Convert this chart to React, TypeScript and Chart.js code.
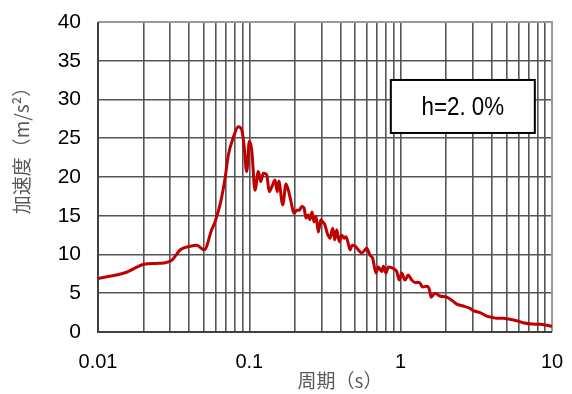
import React, { useEffect, useRef } from "react";
import { Chart, registerables } from "chart.js";

Chart.register(...registerables);

const periods: number[] = [
  0.01, 0.01508, 0.02023, 0.02503, 0.03037, 0.03536, 0.04055, 0.04489, 0.05039, 0.05639,
  0.05932, 0.06469, 0.06908, 0.07261, 0.07838, 0.08455, 0.08906, 0.09223, 0.09607, 0.09995,
  0.1037, 0.109, 0.1147, 0.1189, 0.1237, 0.1302, 0.1355, 0.1427, 0.1478, 0.153,
  0.1564, 0.1662, 0.1747, 0.1809, 0.1877, 0.1974, 0.2056, 0.2139, 0.2219, 0.2298,
  0.2369, 0.2453, 0.2517, 0.2595, 0.2675, 0.2758, 0.2857, 0.2963, 0.3054, 0.3162,
  0.3275, 0.3413, 0.3556, 0.3666, 0.378, 0.3932, 0.4077, 0.4222, 0.4353, 0.4508,
  0.4627, 0.4792, 0.4993, 0.5249, 0.5528, 0.5812, 0.5964, 0.6271, 0.6535, 0.6871,
  0.7116, 0.7495, 0.768, 0.8002, 0.8287, 0.8941, 0.9415, 0.9795, 1.016, 1.068,
  1.123, 1.183, 1.244, 1.328, 1.398, 1.486, 1.547, 1.587, 1.686, 1.82,
  2.015, 2.175, 2.346, 2.594, 2.872, 3.02, 3.344, 3.703, 3.996, 4.312,
  4.767, 5.278, 5.846, 6.462, 7.342, 8.334, 9.227, 10.0,
];

const accel: number[] = [
  6.9, 7.65, 8.74, 8.86, 9.2, 10.67, 11.05, 11.2, 10.6, 13.2,
  14.2, 16.8, 19.8, 22.8, 25.1, 26.5, 26.1, 24.1, 20.7, 24.6,
  23.5, 18.3, 20.7, 19.4, 20.5, 20.3, 18.1, 19.0, 19.6, 18.1,
  19.5, 16.4, 19.1, 18.3, 17.0, 15.3, 15.7, 15.7, 16.2, 16.0,
  14.7, 15.1, 14.5, 15.5, 14.2, 14.9, 12.9, 14.5, 14.2, 13.8,
  12.7, 12.1, 13.4, 11.9, 13.2, 11.65, 12.5, 12.1, 12.3, 11.4,
  10.6, 11.2, 11.1, 10.6, 10.2, 10.6, 10.8, 9.9, 9.5, 7.6,
  8.4, 7.8, 8.5, 7.6, 8.4, 8.2, 7.8, 6.7, 7.6, 6.7,
  7.35, 6.7, 6.4, 6.4, 5.8, 5.9, 5.5, 4.5, 5.0, 4.65,
  4.5, 4.1, 3.6, 3.35, 3.05, 2.75, 2.5, 2.06, 1.9, 1.77,
  1.77, 1.65, 1.46, 1.2, 1.03, 1.0, 0.86, 0.72,
];

const xTickValues: number[] = [
  0.01, 0.02, 0.03, 0.04, 0.05, 0.06, 0.07, 0.08, 0.09,
  0.1, 0.2, 0.3, 0.4, 0.5, 0.6, 0.7, 0.8, 0.9,
  1, 2, 3, 4, 5, 6, 7, 8, 9, 10,
];
const xTickLabels: Record<string, string> = { "0.01": "0.01", "0.1": "0.1", "1": "1", "10": "10" };

const yTitle = "加速度（m/s²）";
const xTitle = "周期（s）";
const boxLabel = "h=2. 0%";

const zeroPadding = (scale: any) => {
  scale.paddingTop = 0;
  scale.paddingBottom = 0;
  scale.paddingLeft = 0;
  scale.paddingRight = 0;
};

const overlayPlugin = {
  id: "overlay",
  beforeDatasetsDraw(chart: any) {
    const { ctx, chartArea: a } = chart;
    ctx.save();
    ctx.lineWidth = 2;
    ctx.strokeStyle = "#9a9a9a";
    ctx.beginPath();
    ctx.moveTo(a.left, a.top);
    ctx.lineTo(a.right, a.top);
    ctx.lineTo(a.right, a.bottom);
    ctx.stroke();
    ctx.strokeStyle = "#404040";
    ctx.beginPath();
    ctx.moveTo(a.left, a.top);
    ctx.lineTo(a.left, a.bottom);
    ctx.lineTo(a.right, a.bottom);
    ctx.stroke();
    ctx.restore();
  },
  afterDraw(chart: any) {
    const { ctx, chartArea: a } = chart;
    ctx.save();
    ctx.fillStyle = "#595959";
    ctx.font = '19px "Noto Sans CJK JP"';
    ctx.textAlign = "center";
    ctx.textBaseline = "middle";
    ctx.save();
    ctx.translate(22, 146);
    ctx.rotate(-Math.PI / 2);
    ctx.fillText(yTitle, 0, 0);
    ctx.restore();
    ctx.fillText(xTitle, 340, 381);
    const bx = a.left + (a.right - a.left) * 0.645;
    const by = a.top + (a.bottom - a.top) * 0.187;
    const bw = 144;
    const bh = 53;
    ctx.fillStyle = "#ffffff";
    ctx.fillRect(bx, by, bw, bh);
    ctx.lineWidth = 2;
    ctx.strokeStyle = "#000000";
    ctx.strokeRect(bx, by, bw, bh);
    ctx.fillStyle = "#000000";
    ctx.font = '26px "Liberation Sans"';
    ctx.save();
    ctx.translate(bx + bw / 2, by + bh / 2 + 1);
    ctx.scale(0.86, 1);
    ctx.fillText(boxLabel, 0, 0);
    ctx.restore();
    ctx.restore();
  },
};

export default function App() {
  const canvasRef = useRef<HTMLCanvasElement | null>(null);

  useEffect(() => {
    const canvas = canvasRef.current;
    if (!canvas) return;
    const chart = new Chart(canvas, {
      type: "line",
      data: {
        datasets: [
          {
            data: periods.map((t, i) => ({ x: t, y: accel[i] })),
            borderColor: "#C00000",
            borderWidth: 3,
            pointRadius: 0,
            cubicInterpolationMode: "monotone",
            fill: false,
          },
        ],
      },
      options: {
        responsive: false,
        animation: false,
        devicePixelRatio: 1,
        layout: { padding: { top: 22, right: 20, left: 0, bottom: 0 } },
        plugins: { legend: { display: false }, tooltip: { enabled: false }, title: { display: false } },
        scales: {
          x: {
            type: "logarithmic",
            min: 0.01,
            max: 10,
            afterBuildTicks: (scale: any) => {
              scale.ticks = xTickValues.map((v) => ({ value: v }));
            },
            afterFit: (scale: any) => {
              scale.height = 62;
              zeroPadding(scale);
            },
            ticks: {
              autoSkip: false,
              maxRotation: 0,
              minRotation: 0,
              padding: 18,
              color: "#000000",
              font: { family: "Liberation Sans", size: 20 },
              callback: (v: any) => xTickLabels[String(Number(v))] ?? "",
            },
            grid: { color: "#555555", lineWidth: 1.6, drawTicks: false },
            border: { display: false },
          },
          y: {
            type: "linear",
            min: 0,
            max: 40,
            afterFit: (scale: any) => {
              scale.width = 98;
              zeroPadding(scale);
            },
            ticks: {
              stepSize: 5,
              padding: 17,
              color: "#000000",
              font: { family: "Liberation Sans", size: 21 },
            },
            grid: { color: "#555555", lineWidth: 1.6, drawTicks: false },
            border: { display: false },
          },
        },
      },
      plugins: [overlayPlugin],
    });
    return () => chart.destroy();
  }, []);

  return (
    <div style={{ position: "absolute", left: 0, top: 0, width: 572, height: 394, background: "#ffffff" }}>
      <canvas ref={canvasRef} width={572} height={394} style={{ width: 572, height: 394, display: "block" }} />
    </div>
  );
}
